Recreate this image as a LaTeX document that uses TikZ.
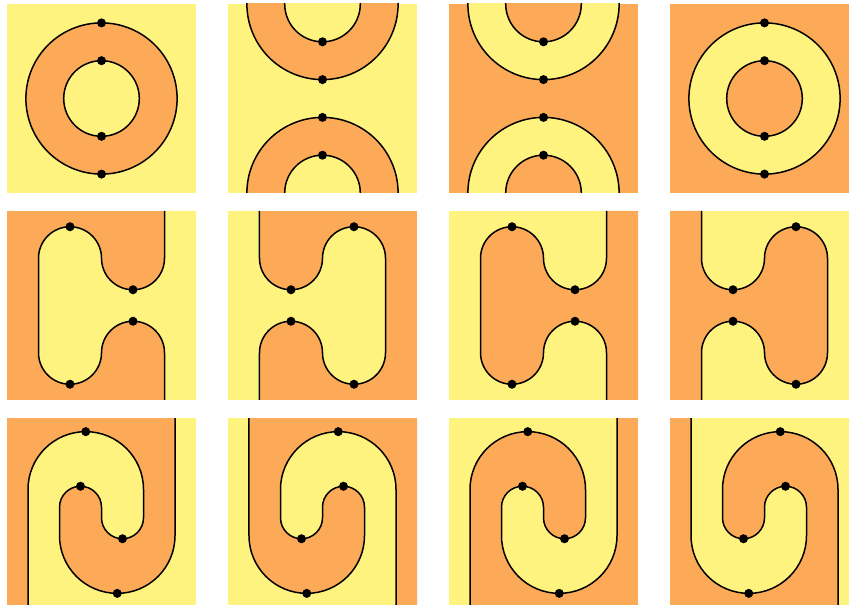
\documentclass[tikz,border=0pt]{standalone}
\usetikzlibrary{calc}
\definecolor{tileyel}{RGB}{255,243,128}
\definecolor{tileorg}{RGB}{253,170,88}
% boundary of the H tiles (row 2), panel is 18 x 18
\newcommand{\curveH}{(15,18) -- (15,13.5) arc(0:-180:3) arc(0:180:3) -- (3,4.5) arc(180:360:3) arc(180:0:3) -- (15,0)}
% boundary of the S tiles (row 3)
\newcommand{\curveS}{(16,18) -- (16,6.8) arc(0:-180:5.5) -- (5,9.5) arc(180:0:2) -- (9,8.5) arc(180:360:2) -- (13,11.2) arc(0:180:5.5) -- (2,0)}

\begin{document}
\begin{tikzpicture}[x=10.5pt, y=10.5pt,
  bdry/.style={draw=black, line width=1.5pt},
  vtx/.style={fill=black}]
\useasboundingbox (0,0) rectangle (80.857,57.524);

% row 1: rings
\foreach \px/\split/\bgc/\fgc in {0.667/0/tileyel/tileorg, 21.714/1/tileyel/tileorg, 42.762/1/tileorg/tileyel, 63.81/0/tileorg/tileyel}{
  \begin{scope}[shift={(\px,39.143)}]
    \fill[\bgc] (0,0) rectangle (18,18);
    \clip (0,0) rectangle (18,18);
    \ifnum\split=0
      \fill[\fgc] (9,9) circle (7.2);
      \fill[\bgc] (9,9) circle (3.6);
      \draw[bdry] (9,9) circle (7.2) (9,9) circle (3.6);
      \foreach \b in {1.8,5.4,12.6,16.2} \fill[vtx] (9,\b) circle (0.43);
    \else
      \fill[\fgc] (9,18) circle (7.2) (9,0) circle (7.2);
      \fill[\bgc] (9,18) circle (3.6) (9,0) circle (3.6);
      \draw[bdry] (9,18) circle (7.2) (9,18) circle (3.6) (9,0) circle (7.2) (9,0) circle (3.6);
      \foreach \b in {3.6,7.2,10.8,14.4} \fill[vtx] (9,\b) circle (0.43);
    \fi
  \end{scope}
}

% row 2: H tiles
\foreach \px/\mir/\bgc/\fgc in {0.667/1/tileorg/tileyel, 21.714/-1/tileorg/tileyel, 42.762/1/tileyel/tileorg, 63.81/-1/tileyel/tileorg}{
  \begin{scope}[shift={(\px+9,19.429)}, xscale=\mir, shift={(-9,0)}]
    \fill[\bgc] (0,0) rectangle (18,18);
    \fill[\fgc] \curveH -- (18,0) -- (18,18) -- cycle;
    \draw[bdry] \curveH;
    \foreach \a/\b in {6/16.5, 12/10.5, 12/7.5, 6/1.5} \fill[vtx] (\a,\b) circle (0.43);
  \end{scope}
}

% row 3: S tiles
\foreach \px/\mir/\bgc/\fgc in {0.667/1/tileyel/tileorg, 21.714/-1/tileyel/tileorg, 42.762/1/tileorg/tileyel, 63.81/-1/tileorg/tileyel}{
  \begin{scope}[shift={(\px+9,-0.286)}, xscale=\mir, shift={(-9,0)}]
    \fill[\bgc] (0,0) rectangle (18,18);
    \fill[\fgc] \curveS -- (0,0) -- (0,18) -- cycle;
    \draw[bdry] \curveS;
    \foreach \a/\b in {7.5/16.7, 7/11.5, 11/6.5, 10.5/1.3} \fill[vtx] (\a,\b) circle (0.43);
  \end{scope}
}
\end{tikzpicture}
\end{document}
